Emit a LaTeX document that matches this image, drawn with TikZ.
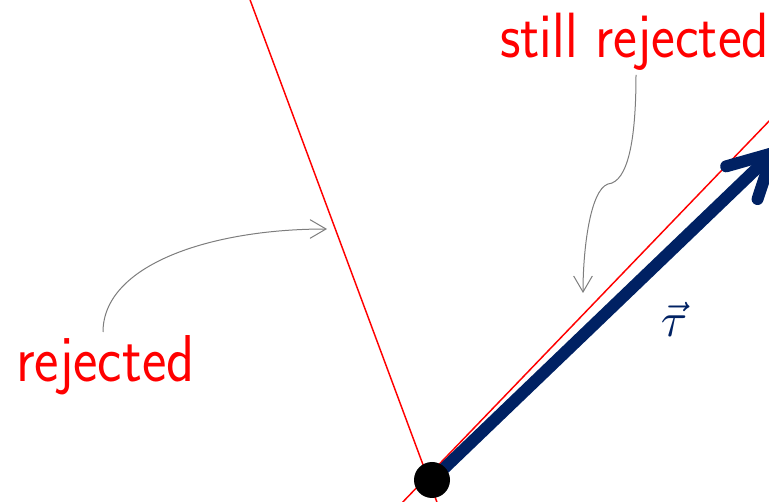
\documentclass[tikz,border=0pt]{standalone}
\usetikzlibrary{arrows.meta}
\definecolor{navy}{RGB}{0,33,99}
\definecolor{pengray}{RGB}{125,125,125}
\tikzset{
  redline/.style={draw=red, line width=1.1pt},
  vecarrow/.style={draw=navy, line width=9pt, line cap=round,
    -{Straight Barb[length=32pt, width=34pt, line cap=round, line join=round]}},
  callout/.style={draw=pengray, line width=0.75pt,
    -{Straight Barb[length=12pt, width=14pt]}},
  handlabel/.style={text=red, inner sep=0pt, font=\sffamily\fontsize{43.6}{44}\selectfont},
  dot/.style={circle, fill=black, minimum size=27pt, inner sep=0pt}
}
\begin{document}
\begin{tikzpicture}[x=0.75pt, y=-0.75pt]
\useasboundingbox (0,0) rectangle (769,502);
% red lines
\coordinate (l1a) at (249,-3);
\coordinate (l1b) at (438,505);
\coordinate (l2a) at (399,506);
\coordinate (l2b) at (773,117);
\draw[redline] (l1a) -- (l1b);
\draw[redline] (l2a) -- (l2b);
% vector
\coordinate (o) at (432,480);
\coordinate (tip) at (777,149);
\draw[vecarrow] (o) -- (tip);
\node[dot] (origin) at (o) {};
\node[text=navy, anchor=base, inner sep=0pt] (tau) at (674,337) {\scalebox{3.6}{$\vec{\tau}$}};
% labels
\node[handlabel, anchor=base west] (still) at (500,58) {\scalebox{0.975}[1.1]{still rejected}};
\node[handlabel, anchor=base west] (rej) at (16,382) {\scalebox{1}[1.14]{rejected}};
% callouts
\coordinate (s0) at (636,75);
\coordinate (skink) at (608,184);
\coordinate (s1) at (583,293);
\draw[callout] (s0) .. controls (636,140) and (628,182) .. (skink)
  .. controls (590,190) and (583,250) .. (s1);
\coordinate (r0) at (103,332);
\coordinate (r1) at (327,229);
\draw[callout] (r0) .. controls (103,265) and (210,229) .. (r1);
\end{tikzpicture}
\end{document}
